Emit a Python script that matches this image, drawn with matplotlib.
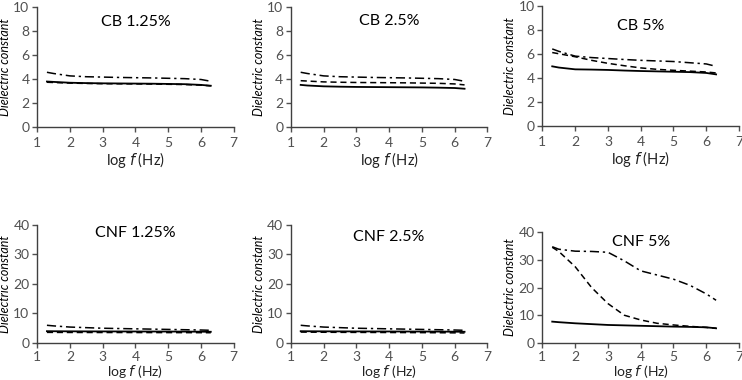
import numpy as np
import matplotlib
matplotlib.use('Agg')
import matplotlib.pyplot as plt

plt.rcParams['font.family'] = ['Lato', 'DejaVu Sans']

# log f values where the curves were sampled
log_f = [1.3, 1.5, 2.0, 2.5, 3.0, 3.5, 4.0, 4.5, 5.0, 5.5, 6.0, 6.3]

# CB panels (solid, dashed, dash-dot)
cb125_solid = [3.78, 3.75, 3.68, 3.65, 3.63, 3.62, 3.61, 3.60, 3.58, 3.56, 3.50, 3.43]
cb125_dash = [3.72, 3.70, 3.65, 3.62, 3.60, 3.59, 3.58, 3.57, 3.55, 3.53, 3.48, 3.42]
cb125_dashdot = [4.55, 4.45, 4.25, 4.18, 4.15, 4.12, 4.10, 4.08, 4.05, 4.02, 3.95, 3.80]

cb25_solid = [3.50, 3.45, 3.38, 3.35, 3.33, 3.32, 3.31, 3.30, 3.29, 3.27, 3.24, 3.18]
cb25_dash = [3.85, 3.82, 3.75, 3.72, 3.70, 3.69, 3.68, 3.67, 3.65, 3.63, 3.58, 3.50]
cb25_dashdot = [4.55, 4.45, 4.25, 4.18, 4.15, 4.12, 4.10, 4.08, 4.05, 4.02, 3.95, 3.80]

cb5_solid = [4.95, 4.85, 4.70, 4.68, 4.65, 4.60, 4.56, 4.53, 4.50, 4.47, 4.40, 4.28]
cb5_dash = [6.10, 6.00, 5.75, 5.45, 5.20, 5.00, 4.82, 4.70, 4.62, 4.55, 4.48, 4.40]
cb5_dashdot = [6.40, 6.20, 5.80, 5.68, 5.60, 5.52, 5.45, 5.40, 5.35, 5.25, 5.15, 4.95]

# CNF panels
cnf125_solid = [4.0, 3.98, 3.95, 3.93, 3.92, 3.91, 3.90, 3.89, 3.88, 3.86, 3.83, 3.80]
cnf125_dash = [3.6, 3.59, 3.57, 3.56, 3.55, 3.55, 3.54, 3.53, 3.52, 3.51, 3.50, 3.48]
cnf125_dashdot = [6.0, 5.8, 5.4, 5.2, 5.0, 4.9, 4.8, 4.7, 4.6, 4.5, 4.4, 4.3]

cnf25_solid = [4.0, 3.98, 3.95, 3.93, 3.92, 3.91, 3.90, 3.89, 3.88, 3.86, 3.83, 3.80]
cnf25_dash = [3.7, 3.68, 3.64, 3.61, 3.59, 3.57, 3.55, 3.53, 3.51, 3.48, 3.44, 3.40]
cnf25_dashdot = [6.0, 5.8, 5.4, 5.2, 5.0, 4.9, 4.8, 4.7, 4.6, 4.5, 4.4, 4.3]

cnf5_solid = [7.7, 7.5, 7.1, 6.8, 6.5, 6.35, 6.2, 6.05, 5.9, 5.8, 5.65, 5.3]
cnf5_dash = [34.5, 33.0, 27.5, 20.0, 14.2, 10.0, 8.3, 7.1, 6.5, 6.0, 5.6, 5.3]
cnf5_dashdot = [34.7, 33.8, 33.1, 33.0, 32.7, 29.6, 26.0, 24.5, 23.0, 20.8, 17.7, 15.4]

titles = ['CB 1.25%', 'CB 2.5%', 'CB 5%', 'CNF 1.25%', 'CNF 2.5%', 'CNF 5%']
title_y = [8.75, 8.8, 8.3, 37.3, 36.0, 36.5]
series = [
    (cb125_solid, cb125_dash, cb125_dashdot),
    (cb25_solid, cb25_dash, cb25_dashdot),
    (cb5_solid, cb5_dash, cb5_dashdot),
    (cnf125_solid, cnf125_dash, cnf125_dashdot),
    (cnf25_solid, cnf25_dash, cnf25_dashdot),
    (cnf5_solid, cnf5_dash, cnf5_dashdot),
]

fig = plt.figure(figsize=(7.42, 3.8), dpi=100)

lefts = [0.050, 0.392, 0.731]
w = 0.265
boxes = [
    [lefts[0], 0.666, w, 0.316],
    [lefts[1], 0.666, w, 0.316],
    [lefts[2], 0.669, w, 0.316],
    [lefts[0], 0.0974, w, 0.3105],
    [lefts[1], 0.0974, w, 0.3105],
    [lefts[2], 0.0974, w, 0.292],
]

tick_col = '#505050'
for i in range(6):
    ax = fig.add_axes(boxes[i])
    s, d, dd = series[i]
    ax.plot(log_f, s, color='black', lw=1.3, ls='-')
    ax.plot(log_f, d, color='black', lw=1.1, ls=(0, (4, 2.5)))
    ax.plot(log_f, dd, color='black', lw=1.1, ls=(0, (6, 2.5, 1.5, 2.5)))

    ax.set_xlim(1, 7)
    ax.set_xticks(range(1, 8))
    if i < 3:
        ax.set_ylim(0, 10)
        ax.set_yticks([0, 2, 4, 6, 8, 10])
        xl_off, xl_size, xpad = 33, 10.5, 4
    else:
        ax.set_ylim(0, 40)
        ax.set_yticks([0, 10, 20, 30, 40])
        xl_off, xl_size, xpad = 29, 10, 2
    ax.text(4, title_y[i], titles[i], ha='center', va='center', fontsize=11.5)

    ax.set_xlabel('log $\\it{f}$ (Hz)', fontsize=xl_size, color='#222222', va='center')
    ax.set_ylabel('Dielectric constant', fontsize=9, style='italic', va='center')
    h_px = boxes[i][3] * 380
    w_px = boxes[i][2] * 742
    ax.xaxis.set_label_coords(0.5, -xl_off / h_px)
    ax.yaxis.set_label_coords(-32 / w_px, 0.5)

    for sp in ['top', 'right']:
        ax.spines[sp].set_visible(False)
    for sp in ['left', 'bottom']:
        ax.spines[sp].set_color('#404040')
        ax.spines[sp].set_linewidth(1.0)
    ax.tick_params(axis='both', labelsize=10, colors=tick_col, length=3.5, width=1.0, pad=2)
    ax.tick_params(axis='x', pad=xpad)

fig.savefig('out.png', dpi=100)
